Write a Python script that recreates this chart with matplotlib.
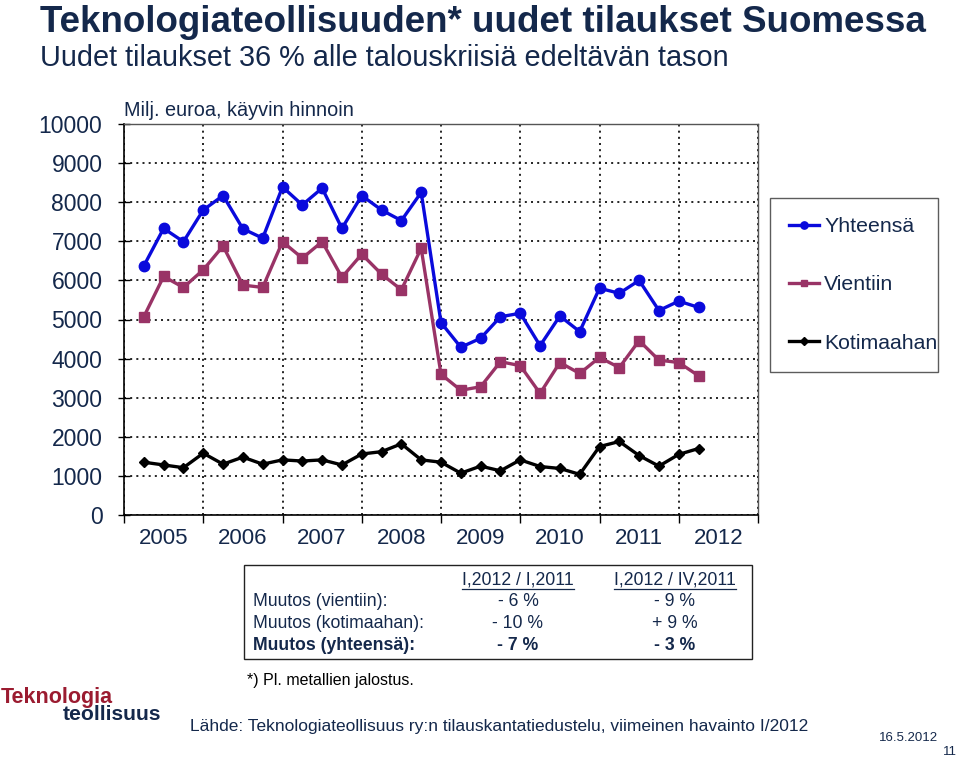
import numpy as np
import matplotlib
matplotlib.use("Agg")
import matplotlib.pyplot as plt
from matplotlib.lines import Line2D
from matplotlib.patches import Rectangle

plt.rcParams['font.family'] = ['Liberation Sans', 'DejaVu Sans']

# ------------------------------
# Data (quarterly, I/2005 .. I/2012), milj. euroa
# ------------------------------
years = ["2005", "2006", "2007", "2008", "2009", "2010", "2011", "2012"]

yhteensa = [6370, 7330, 6990, 7800, 8170, 7320, 7080, 8390, 7930, 8360, 7330, 8170,
            7800, 7530, 8250, 4920, 4290, 4520, 5070, 5160, 4330, 5090, 4690, 5800,
            5670, 6000, 5230, 5470, 5310]
vientiin = [5070, 6100, 5820, 6270, 6880, 5880, 5820, 6990, 6570, 6990, 6080, 6670,
            6160, 5760, 6820, 3600, 3190, 3280, 3920, 3820, 3110, 3900, 3620, 4030,
            3770, 4460, 3960, 3900, 3560]
kotimaahan = [1350, 1280, 1210, 1580, 1300, 1480, 1300, 1410, 1380, 1410, 1280, 1560,
              1620, 1820, 1410, 1350, 1070, 1250, 1130, 1410, 1240, 1190, 1040, 1750,
              1880, 1520, 1250, 1550, 1700]

series_names = ["Yhteensä", "Vientiin", "Kotimaahan"]

table_headers = ["I,2012 / I,2011", "I,2012 / IV,2011"]
table_rows = ["Muutos (vientiin):", "Muutos (kotimaahan):", "Muutos (yhteensä):"]
table_col1 = ["- 6 %", "- 10 %", "- 7 %"]
table_col2 = ["- 9 %", "+ 9 %", "- 3 %"]

navy = "#14284b"
blue = "#0a0adc"
plum = "#993366"

fig = plt.figure(figsize=(9.6, 7.62), dpi=100)
ax = fig.add_axes([124 / 960, 1 - 515 / 762, (758 - 124) / 960, (515 - 124) / 762])

x = np.arange(1, len(yhteensa) + 1)
ax.plot(x, yhteensa, color=blue, lw=2.4, marker="o", ms=7.5, label=series_names[0])
ax.plot(x, vientiin, color=plum, lw=2.4, marker="s", ms=6.5, label=series_names[1])
ax.plot(x, kotimaahan, color="black", lw=2.4, marker="D", ms=5.5, label=series_names[2])

ax.set_xlim(0, 4 * len(years))
ax.set_ylim(0, 10000)
ax.set_yticks(np.arange(0, 10001, 1000))
ax.set_xticks(np.arange(0, 4 * len(years) + 1, 4))
ax.set_xticklabels([])
ax.set_xticks(np.arange(2, 4 * len(years), 4), minor=True)
ax.set_xticklabels(years, minor=True)
ax.tick_params(axis="x", which="minor", length=0, pad=9, labelsize=16, labelcolor=navy)
ax.tick_params(axis="x", which="major", direction="out", length=6, width=1)
ax.tick_params(axis="y", direction="inout", length=9, width=1, pad=11,
               labelsize=16.5, labelcolor=navy)

ax.grid(True, which="major", color="black", linestyle=(0, (1.2, 2.5)), lw=1.2)
for s in ["top", "right"]:
    ax.spines[s].set_color("#555555")
    ax.spines[s].set_linewidth(1)
ax.spines["left"].set_linewidth(1.2)
ax.spines["bottom"].set_linewidth(1.2)

ax.text(0, 1.01, "Milj. euroa, käyvin hinnoin", transform=ax.transAxes,
        fontsize=14.3, color=navy, ha="left", va="bottom")

leg = fig.legend(loc="center", bbox_to_anchor=(770 / 960, 1 - 373 / 762, 168 / 960, 176 / 762),
                 mode="expand", fontsize=15.3, labelspacing=1.85, handlelength=1.4,
                 handletextpad=0.25, markerscale=0.7, fancybox=False, borderpad=0.9,
                 borderaxespad=0, labelcolor=navy)
leg.get_frame().set_edgecolor("#333333")
leg.get_frame().set_linewidth(1)

# ------------------------------
# Titles
# ------------------------------
fig.text(40 / 960, 1 - 22 / 762, "Teknologiateollisuuden* uudet tilaukset Suomessa",
         fontsize=26.5, fontweight="bold", color=navy, ha="left", va="center")
fig.text(40 / 960, 1 - 58 / 762, "Uudet tilaukset 36 % alle talouskriisiä edeltävän tason",
         fontsize=20.8, color=navy, ha="left", va="center")

# ------------------------------
# Change table
# ------------------------------
fig.add_artist(Rectangle((244 / 960, 1 - 659 / 762), (752 - 244) / 960, (659 - 565) / 762,
                         transform=fig.transFigure, fill=False, edgecolor="#222222", lw=1))
col_x = [518 / 960, 675 / 960]
row_y = [1 - 602 / 762, 1 - 623 / 762, 1 - 645 / 762]
head_y = 1 - 580 / 762
heads = []
for cx, h in zip(col_x, table_headers):
    heads.append(fig.text(cx, head_y, h, fontsize=12.7, color=navy, ha="center", va="center"))
for i, (r, c1, c2) in enumerate(zip(table_rows, table_col1, table_col2)):
    w = "bold" if i == 2 else "normal"
    fig.text(253 / 960, row_y[i], r, fontsize=12.7, color=navy, ha="left", va="center", fontweight=w)
    fig.text(col_x[0], row_y[i], c1, fontsize=12.7, color=navy, ha="center", va="center", fontweight=w)
    fig.text(col_x[1], row_y[i], c2, fontsize=12.7, color=navy, ha="center", va="center", fontweight=w)

fig.canvas.draw()
inv = fig.transFigure.inverted()
for t in heads:
    bb = t.get_window_extent().transformed(inv)
    fig.add_artist(Line2D([bb.x0, bb.x1], [bb.y0 - 0.001, bb.y0 - 0.001],
                          transform=fig.transFigure, color=navy, lw=0.9))

# ------------------------------
# Footer
# ------------------------------
fig.text(247 / 960, 1 - 681 / 762, "*) Pl. metallien jalostus.", fontsize=11.5,
         color="black", ha="left", va="center")
fig.text(190 / 960, 1 - 727 / 762,
         "Lähde: Teknologiateollisuus ry:n tilauskantatiedustelu, viimeinen havainto I/2012",
         fontsize=12.5, color=navy, ha="left", va="center")
fig.text(938 / 960, 1 - 738 / 762, "16.5.2012", fontsize=9.5, color=navy, ha="right", va="center")
fig.text(957 / 960, 1 - 752 / 762, "11", fontsize=9.5, color=navy, ha="right", va="center")
fig.text(1 / 960, 1 - 697 / 762, "Teknologia", fontsize=15.5, fontweight="bold",
         color="#9b1b30", ha="left", va="center")
fig.text(63 / 960, 1 - 715 / 762, "teollisuus", fontsize=15.2, fontweight="bold",
         color=navy, ha="left", va="center")

fig.savefig("out.png", dpi=100)
